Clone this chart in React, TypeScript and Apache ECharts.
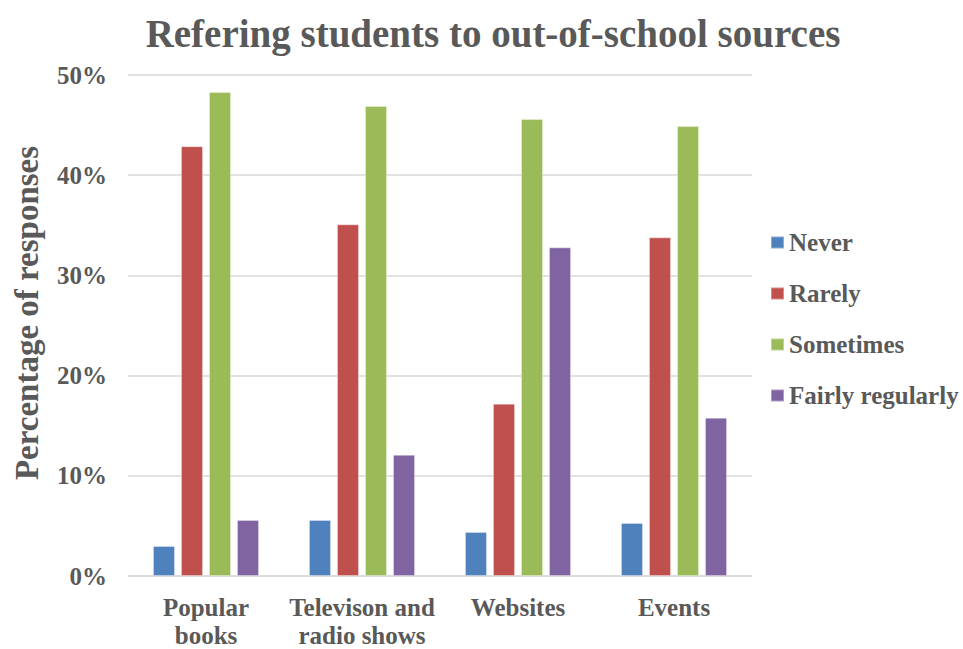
import React, { useEffect, useRef } from "react";
import * as echarts from "echarts";

const categories = ["Popular\nbooks", "Televison and\nradio shows", "Websites", "Events"];
const seriesNames = ["Never", "Rarely", "Sometimes", "Fairly regularly"];
const never = [3.0, 5.6, 4.4, 5.3];
const rarely = [42.9, 35.1, 17.2, 33.8];
const sometimes = [48.3, 46.9, 45.6, 44.9];
const fairlyRegularly = [5.6, 12.1, 32.8, 15.8];
const yTicks = [0, 10, 20, 30, 40, 50];

const colors = ["#4F81BD", "#C0504D", "#9BBB59", "#8064A2"];
const FONT = "Liberation Serif, Times New Roman, serif";
const TEXT = "#595959";

export default function App() {
  const ref = useRef<HTMLDivElement>(null);
  useEffect(() => {
    document.body.style.margin = "0";
    const chart = echarts.init(ref.current!, undefined, { renderer: "svg" });
    const values = [never, rarely, sometimes, fairlyRegularly];
    chart.setOption({
      animation: false,
      backgroundColor: "#ffffff",
      textStyle: { fontFamily: FONT },
      title: {
        text: "Refering students to out-of-school sources",
        left: 488,
        top: 9,
        textAlign: "center",
        textStyle: { fontFamily: FONT, fontWeight: "bold", fontSize: 39, color: TEXT },
      },
      legend: {
        orient: "vertical",
        left: 765,
        top: 225,
        itemWidth: 13,
        itemHeight: 12,
        itemGap: 26,
        icon: "rect",
        textStyle: { fontFamily: FONT, fontWeight: "bold", fontSize: 25, color: TEXT },
        data: seriesNames,
      },
      graphic: [
        {
          type: "text",
          x: 27,
          y: 313,
          rotation: Math.PI / 2,
          style: {
            text: "Percentage of responses",
            fontFamily: FONT,
            fontWeight: "bold",
            fontSize: 33,
            fill: TEXT,
            align: "center",
            verticalAlign: "middle",
          },
        },
      ],
      grid: { left: 128, right: 211, top: 75, bottom: 68, containLabel: false },
      xAxis: {
        type: "category",
        data: categories,
        axisLine: { show: true, lineStyle: { color: "#D9D9D9", width: 1.5 } },
        axisTick: { show: false },
        axisLabel: {
          interval: 0,
          margin: 17,
          fontFamily: FONT,
          fontWeight: "bold",
          fontSize: 25,
          lineHeight: 28,
          color: TEXT,
        },
      },
      yAxis: {
        type: "value",
        min: yTicks[0],
        max: yTicks[yTicks.length - 1],
        interval: 10,
        axisLine: { show: false },
        axisTick: { show: false },
        splitLine: { lineStyle: { color: "#D9D9D9", width: 1.5 } },
        axisLabel: {
          margin: 21,
          fontFamily: FONT,
          fontWeight: "bold",
          fontSize: 25,
          color: TEXT,
          formatter: "{value}%",
        },
      },
      series: seriesNames.map((name, i) => ({
        name,
        type: "bar",
        data: values[i],
        barGap: "27%",
        barCategoryGap: "32%",
        itemStyle: { color: colors[i], borderColor: "rgba(255,255,255,0.35)", borderWidth: 1 },
      })),
    });
    return () => chart.dispose();
  }, []);
  return <div ref={ref} style={{ width: 963, height: 649, position: "absolute", left: 0, top: 0 }} />;
}
